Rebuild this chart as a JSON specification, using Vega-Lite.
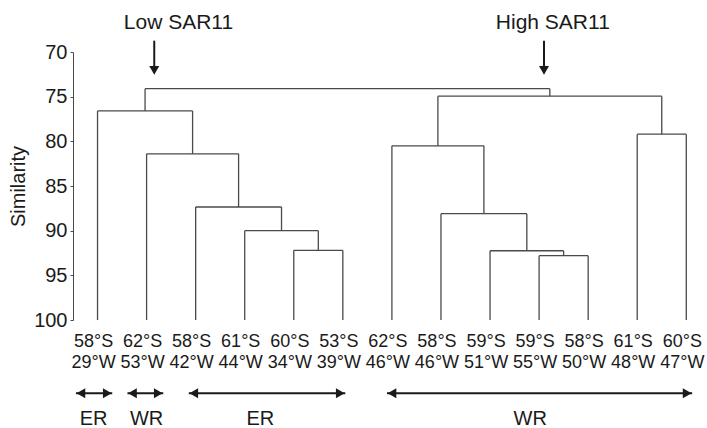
{
  "$schema": "https://vega.github.io/schema/vega-lite/v6.json",
  "width": 628,
  "height": 268,
  "autosize": "none",
  "padding": {"left": 73, "top": 52, "right": 6, "bottom": 108},
  "config": {"view": {"stroke": null}, "font": "Liberation Sans", "text": {"color": "#1a1a1a"}},
  "datasets": {
    "merges": [
      {"id": "M1", "left": 5, "right": 6, "h": 92.2, "lh": 100, "rh": 100},
      {"id": "M2", "left": 4, "right": 5.5, "h": 90.0, "lh": 100, "rh": 92.2},
      {"id": "M3", "left": 3, "right": 4.75, "h": 87.35, "lh": 100, "rh": 90.0},
      {"id": "M4", "left": 2, "right": 3.875, "h": 81.4, "lh": 100, "rh": 87.35},
      {"id": "M5", "left": 1, "right": 2.9375, "h": 76.6, "lh": 100, "rh": 81.4},
      {"id": "M6", "left": 10, "right": 11, "h": 92.8, "lh": 100, "rh": 100},
      {"id": "M7", "left": 9, "right": 10.5, "h": 92.25, "lh": 100, "rh": 92.8},
      {"id": "M8", "left": 8, "right": 9.75, "h": 88.1, "lh": 100, "rh": 92.25},
      {"id": "M9", "left": 7, "right": 8.875, "h": 80.5, "lh": 100, "rh": 88.1},
      {"id": "M10", "left": 12, "right": 13, "h": 79.2, "lh": 100, "rh": 100},
      {"id": "M11", "left": 7.9375, "right": 12.5, "h": 74.95, "lh": 80.5, "rh": 79.2},
      {"id": "M12", "left": 1.96875, "right": 10.21875, "h": 74.1, "lh": 76.6, "rh": 74.95}
    ],
    "leaves": [
      {"i": 1, "lat": "58°S", "lon": "29°W"},
      {"i": 2, "lat": "62°S", "lon": "53°W"},
      {"i": 3, "lat": "58°S", "lon": "42°W"},
      {"i": 4, "lat": "61°S", "lon": "44°W"},
      {"i": 5, "lat": "60°S", "lon": "34°W"},
      {"i": 6, "lat": "53°S", "lon": "39°W"},
      {"i": 7, "lat": "62°S", "lon": "46°W"},
      {"i": 8, "lat": "58°S", "lon": "46°W"},
      {"i": 9, "lat": "59°S", "lon": "51°W"},
      {"i": 10, "lat": "59°S", "lon": "55°W"},
      {"i": 11, "lat": "58°S", "lon": "50°W"},
      {"i": 12, "lat": "61°S", "lon": "48°W"},
      {"i": 13, "lat": "60°S", "lon": "47°W"}
    ],
    "regions": [
      {"label": "ER", "from": 0.56, "to": 1.30, "mid": 0.92},
      {"label": "WR", "from": 1.61, "to": 2.34, "mid": 2.0},
      {"label": "ER", "from": 2.86, "to": 6.05, "mid": 4.32},
      {"label": "WR", "from": 6.90, "to": 13.12, "mid": 9.82}
    ],
    "sar": [
      {"label": "Low SAR11", "arrow": 2.156, "textx": 2.65},
      {"label": "High SAR11", "arrow": 10.10, "textx": 10.28}
    ]
  },
  "layer": [
    {
      "data": {"name": "merges"},
      "mark": {"type": "rule", "color": "#4a4a4a", "strokeWidth": 1.3},
      "encoding": {
        "x": {"field": "left", "type": "quantitative", "scale": {"domain": [0.5, 13.3], "nice": false, "zero": false}, "axis": null},
        "x2": {"field": "right"},
        "y": {"field": "h", "type": "quantitative", "title": "Similarity",
              "scale": {"domain": [70, 100], "reverse": true, "nice": false, "zero": false},
              "axis": {"values": [70, 75, 80, 85, 90, 95, 100], "grid": false, "domainColor": "#4a4a4a", "tickColor": "#4a4a4a",
                       "tickSize": 3, "labelPadding": 3, "labelFontSize": 20, "labelColor": "#1a1a1a",
                       "titleFontSize": 20, "titleFontWeight": "normal", "titleColor": "#1a1a1a", "titlePadding": 5}}
      }
    },
    {
      "data": {"name": "merges"},
      "mark": {"type": "rule", "color": "#4a4a4a", "strokeWidth": 1.3},
      "encoding": {
        "x": {"field": "left", "type": "quantitative"},
        "y": {"field": "lh", "type": "quantitative", "title": "Similarity"},
        "y2": {"field": "h"}
      }
    },
    {
      "data": {"name": "merges"},
      "mark": {"type": "rule", "color": "#4a4a4a", "strokeWidth": 1.3},
      "encoding": {
        "x": {"field": "right", "type": "quantitative"},
        "y": {"field": "rh", "type": "quantitative", "title": "Similarity"},
        "y2": {"field": "h"}
      }
    },
    {
      "data": {"name": "leaves"},
      "mark": {"type": "text", "fontSize": 18, "align": "center", "baseline": "alphabetic", "dx": -4},
      "encoding": {
        "x": {"field": "i", "type": "quantitative"},
        "y": {"datum": 103.0},
        "text": {"field": "lat", "type": "nominal"}
      }
    },
    {
      "data": {"name": "leaves"},
      "mark": {"type": "text", "fontSize": 18, "align": "center", "baseline": "alphabetic", "dx": -4},
      "encoding": {
        "x": {"field": "i", "type": "quantitative"},
        "y": {"datum": 105.4},
        "text": {"field": "lon", "type": "nominal"}
      }
    },
    {
      "data": {"name": "regions"},
      "mark": {"type": "rule", "color": "#1a1a1a", "strokeWidth": 2},
      "encoding": {
        "x": {"field": "from", "type": "quantitative"},
        "x2": {"field": "to"},
        "y": {"datum": 108.2}
      }
    },
    {
      "data": {"name": "regions"},
      "mark": {"type": "point", "shape": "triangle-left", "filled": true, "color": "#1a1a1a", "opacity": 1, "size": 100, "xOffset": 5},
      "encoding": {
        "x": {"field": "from", "type": "quantitative"},
        "y": {"datum": 108.2}
      }
    },
    {
      "data": {"name": "regions"},
      "mark": {"type": "point", "shape": "triangle-right", "filled": true, "color": "#1a1a1a", "opacity": 1, "size": 100, "xOffset": -5},
      "encoding": {
        "x": {"field": "to", "type": "quantitative"},
        "y": {"datum": 108.2}
      }
    },
    {
      "data": {"name": "regions"},
      "mark": {"type": "text", "fontSize": 20, "align": "center", "baseline": "alphabetic"},
      "encoding": {
        "x": {"field": "mid", "type": "quantitative"},
        "y": {"datum": 111.75},
        "text": {"field": "label", "type": "nominal"}
      }
    },
    {
      "data": {"name": "sar"},
      "mark": {"type": "rule", "color": "#1a1a1a", "strokeWidth": 2},
      "encoding": {
        "x": {"field": "arrow", "type": "quantitative"},
        "y": {"datum": 68.73},
        "y2": {"datum": 72.0}
      }
    },
    {
      "data": {"name": "sar"},
      "mark": {"type": "point", "shape": "triangle-down", "filled": true, "color": "#1a1a1a", "opacity": 1, "size": 100},
      "encoding": {
        "x": {"field": "arrow", "type": "quantitative"},
        "y": {"datum": 72.05}
      }
    },
    {
      "data": {"name": "sar"},
      "mark": {"type": "text", "fontSize": 21, "align": "center", "baseline": "alphabetic"},
      "encoding": {
        "x": {"field": "textx", "type": "quantitative"},
        "y": {"datum": 67.46},
        "text": {"field": "label", "type": "nominal"}
      }
    }
  ]
}
